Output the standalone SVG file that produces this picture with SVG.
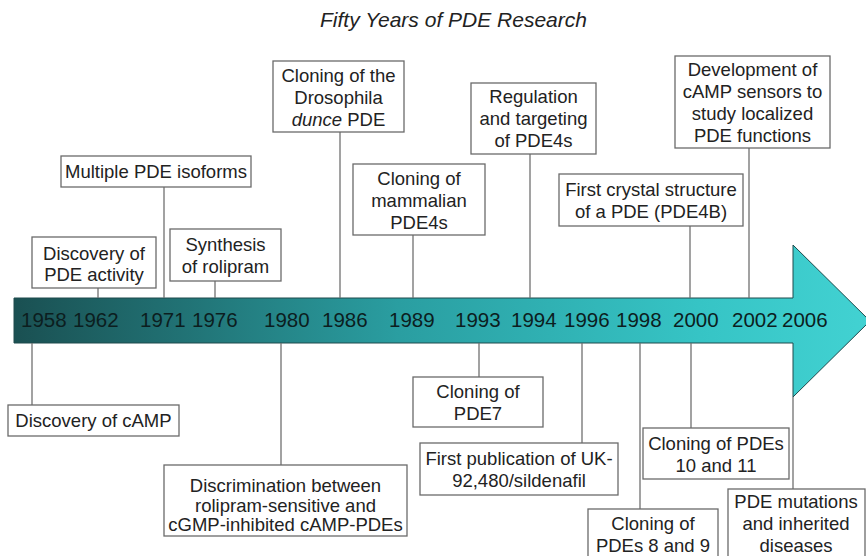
<svg xmlns="http://www.w3.org/2000/svg" width="866" height="556" viewBox="0 0 866 556">
<defs>
<linearGradient id="arrowGrad" gradientUnits="userSpaceOnUse" x1="14" y1="0" x2="870" y2="0">
<stop offset="0" stop-color="#1a5052"/>
<stop offset="0.45" stop-color="#2a9ea1"/>
<stop offset="0.8" stop-color="#36c4c5"/>
<stop offset="1" stop-color="#42d2d2"/>
</linearGradient>
<style>
.box{fill:#ffffff;stroke:#6a6a6a;stroke-width:1.3}
.lbl{font-family:"Liberation Sans",Arial,Helvetica,sans-serif;font-size:18.5px;fill:#222222;text-anchor:middle}
.yr{font-family:"Liberation Sans",Arial,Helvetica,sans-serif;font-size:20.5px;fill:#0c1e1f}
.ttl{font-family:"Liberation Sans",Arial,Helvetica,sans-serif;font-size:21px;font-style:italic;fill:#222222;text-anchor:middle}
.ln{stroke:#707070;stroke-width:1.3;fill:none}
</style>
</defs>
<rect x="0" y="0" width="866" height="556" fill="#ffffff"/>
<text class="ttl" x="453.5" y="27">Fifty Years of PDE Research</text>

<g id="timeline-arrow">
<polygon points="14,298 793,298 793,245 870,321 793,397 793,343 14,343" fill="url(#arrowGrad)" stroke="#1e4a4c" stroke-width="1"/>
<text class="yr" x="21" y="327">1958</text>
<text class="yr" x="73" y="327">1962</text>
<text class="yr" x="140" y="327">1971</text>
<text class="yr" x="192" y="327">1976</text>
<text class="yr" x="264" y="327">1980</text>
<text class="yr" x="322" y="327">1986</text>
<text class="yr" x="389" y="327">1989</text>
<text class="yr" x="455" y="327">1993</text>
<text class="yr" x="511" y="327">1994</text>
<text class="yr" x="564" y="327">1996</text>
<text class="yr" x="616" y="327">1998</text>
<text class="yr" x="673" y="327">2000</text>
<text class="yr" x="732" y="327">2002</text>
<text class="yr" x="782" y="327">2006</text>
</g>

<g id="connectors">
<line class="ln" x1="98" y1="288" x2="98" y2="298"/>
<line class="ln" x1="164" y1="187" x2="164" y2="298"/>
<line class="ln" x1="215" y1="281" x2="215" y2="298"/>
<line class="ln" x1="340" y1="132" x2="340" y2="298"/>
<line class="ln" x1="413" y1="235" x2="413" y2="298"/>
<line class="ln" x1="530" y1="154" x2="530" y2="298"/>
<line class="ln" x1="690" y1="226" x2="690" y2="298"/>
<line class="ln" x1="749" y1="148" x2="749" y2="298"/>
<line class="ln" x1="32" y1="343" x2="32" y2="405"/>
<line class="ln" x1="281" y1="343" x2="281" y2="465"/>
<line class="ln" x1="479" y1="343" x2="479" y2="377"/>
<line class="ln" x1="582" y1="343" x2="582" y2="443"/>
<line class="ln" x1="640" y1="343" x2="640" y2="509"/>
<line class="ln" x1="691" y1="343" x2="691" y2="428"/>
<line class="ln" x1="793" y1="397" x2="793" y2="489"/>
</g>

<g id="n1958">
<rect class="box" x="8" y="405" width="171" height="31"/>
<text class="lbl" x="93.5" y="427">Discovery of cAMP</text>
</g>
<g id="n1962">
<rect class="box" x="32" y="237" width="124" height="51"/>
<text class="lbl" x="94" y="260">Discovery of</text>
<text class="lbl" x="94" y="281">PDE activity</text>
</g>
<g id="n1971">
<rect class="box" x="61" y="156" width="190" height="31"/>
<text class="lbl" x="156" y="178">Multiple PDE isoforms</text>
</g>
<g id="n1976">
<rect class="box" x="170" y="229" width="111" height="52"/>
<text class="lbl" x="225.5" y="251">Synthesis</text>
<text class="lbl" x="225.5" y="273">of rolipram</text>
</g>
<g id="n1980">
<rect class="box" x="164" y="465" width="243" height="71"/>
<text class="lbl" x="285.5" y="492">Discrimination between</text>
<text class="lbl" x="285.5" y="512">rolipram-sensitive and</text>
<text class="lbl" x="285.5" y="531">cGMP-inhibited cAMP-PDEs</text>
</g>
<g id="n1986">
<rect class="box" x="273" y="61" width="131" height="71"/>
<text class="lbl" x="338.5" y="82">Cloning of the</text>
<text class="lbl" x="338.5" y="104">Drosophila</text>
<text class="lbl" x="338.5" y="126"><tspan font-style="italic">dunce</tspan> PDE</text>
</g>
<g id="n1989">
<rect class="box" x="353" y="164" width="132" height="71"/>
<text class="lbl" x="419" y="185">Cloning of</text>
<text class="lbl" x="419" y="207">mammalian</text>
<text class="lbl" x="419" y="229">PDE4s</text>
</g>
<g id="n1993">
<rect class="box" x="413" y="377" width="130" height="50"/>
<text class="lbl" x="478" y="398">Cloning of</text>
<text class="lbl" x="478" y="420">PDE7</text>
</g>
<g id="n1994">
<rect class="box" x="471" y="83" width="125" height="71"/>
<text class="lbl" x="533.5" y="103">Regulation</text>
<text class="lbl" x="533.5" y="125">and targeting</text>
<text class="lbl" x="533.5" y="147">of PDE4s</text>
</g>
<g id="n1996">
<rect class="box" x="420" y="443" width="198" height="52"/>
<text class="lbl" x="519" y="465">First publication of UK-</text>
<text class="lbl" x="519" y="487">92,480/sildenafil</text>
</g>
<g id="n1998">
<rect class="box" x="588" y="509" width="130" height="60"/>
<text class="lbl" x="653" y="530">Cloning of</text>
<text class="lbl" x="653" y="552">PDEs 8 and 9</text>
</g>
<g id="n2000a">
<rect class="box" x="559" y="174" width="184" height="52"/>
<text class="lbl" x="651" y="196">First crystal structure</text>
<text class="lbl" x="651" y="218">of a PDE (PDE4B)</text>
</g>
<g id="n2000b">
<rect class="box" x="643" y="428" width="146" height="51"/>
<text class="lbl" x="716" y="450">Cloning of PDEs</text>
<text class="lbl" x="716" y="472">10 and 11</text>
</g>
<g id="n2002">
<rect class="box" x="675" y="56" width="155" height="92"/>
<text class="lbl" x="752.5" y="76">Development of</text>
<text class="lbl" x="752.5" y="98">cAMP sensors to</text>
<text class="lbl" x="752.5" y="120">study localized</text>
<text class="lbl" x="752.5" y="142">PDE functions</text>
</g>
<g id="n2006">
<rect class="box" x="728" y="489" width="137" height="80"/>
<text class="lbl" x="796" y="508">PDE mutations</text>
<text class="lbl" x="796" y="530">and inherited</text>
<text class="lbl" x="796" y="552">diseases</text>
</g>
</svg>
